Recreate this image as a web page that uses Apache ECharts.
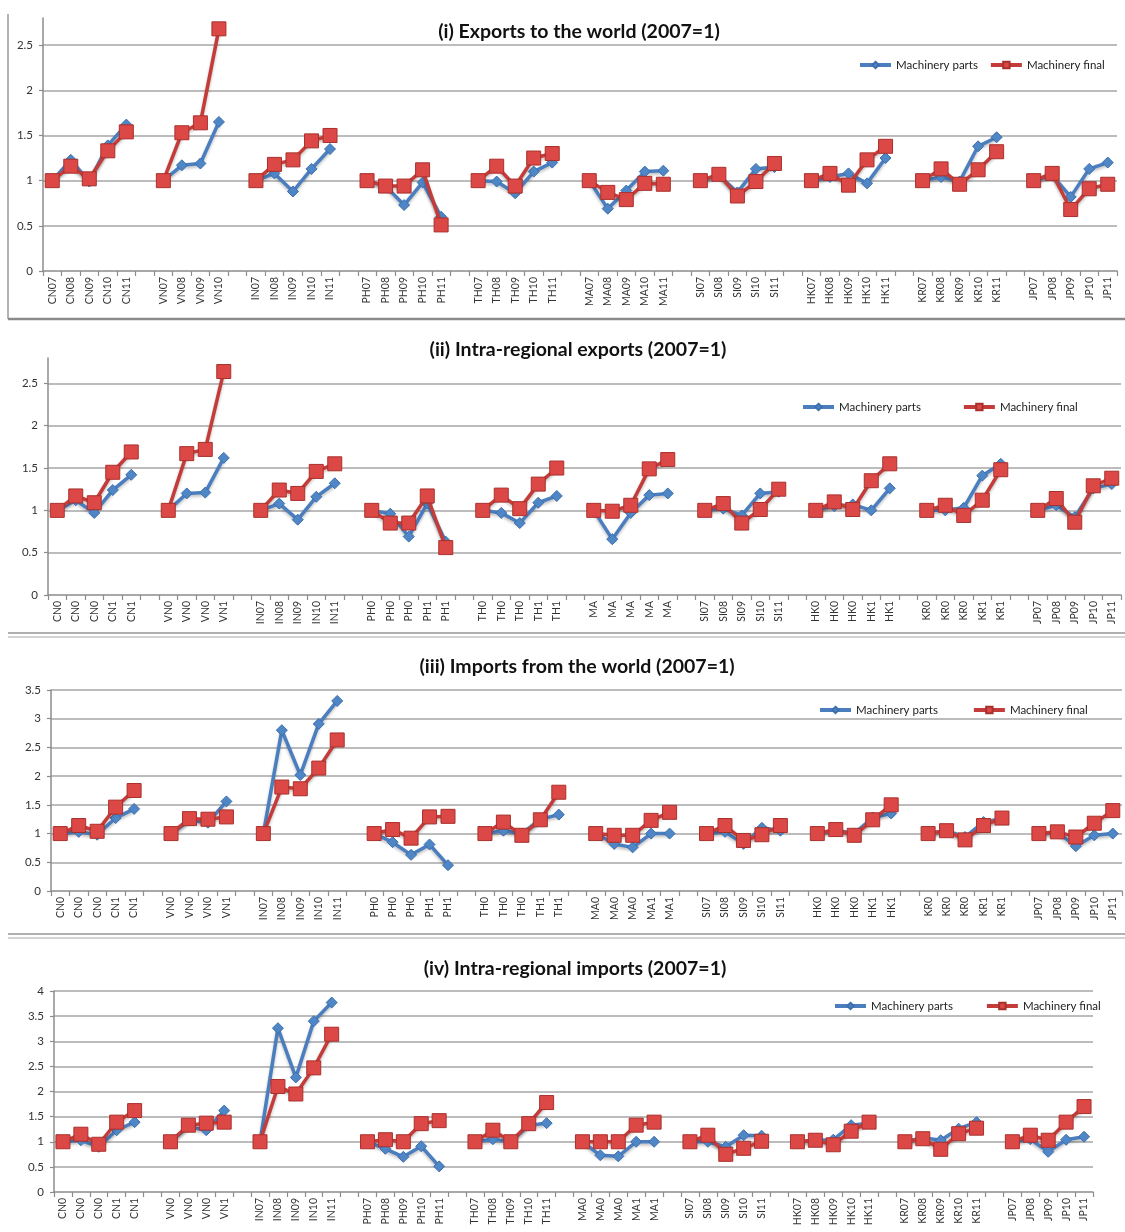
<!DOCTYPE html>
<html>
<head>
<meta charset="utf-8">
<script src="https://cdn.jsdelivr.net/npm/echarts@6/dist/echarts.min.js"></script>
<style>
  html, body { margin: 0; padding: 0; background: #fff; }
  #chart { width: 1125px; height: 1232px; }
</style>
</head>
<body>
<div id="chart"></div>
<script>
// Machinery trade indices by economy and year, 2007 = 1.
// Each economy has its own run of years; null separates the groups.

// ---- tick labels (as printed under each panel) ----
const labelsExportsWorld = [
  'CN07','CN08','CN09','CN10','CN11','',
  'VN07','VN08','VN09','VN10','',
  'IN07','IN08','IN09','IN10','IN11','',
  'PH07','PH08','PH09','PH10','PH11','',
  'TH07','TH08','TH09','TH10','TH11','',
  'MA07','MA08','MA09','MA10','MA11','',
  'SI07','SI08','SI09','SI10','SI11','',
  'HK07','HK08','HK09','HK10','HK11','',
  'KR07','KR08','KR09','KR10','KR11','',
  'JP07','JP08','JP09','JP10','JP11'
];
const labelsIntraExports = [
  'CN0','CN0','CN0','CN1','CN1','',
  'VN0','VN0','VN0','VN1','',
  'IN07','IN08','IN09','IN10','IN11','',
  'PH0','PH0','PH0','PH1','PH1','',
  'TH0','TH0','TH0','TH1','TH1','',
  'MA','MA','MA','MA','MA','',
  'SI07','SI08','SI09','SI10','SI11','',
  'HK0','HK0','HK0','HK1','HK1','',
  'KR0','KR0','KR0','KR1','KR1','',
  'JP07','JP08','JP09','JP10','JP11'
];
const labelsImportsWorld = [
  'CN0','CN0','CN0','CN1','CN1','',
  'VN0','VN0','VN0','VN1','',
  'IN07','IN08','IN09','IN10','IN11','',
  'PH0','PH0','PH0','PH1','PH1','',
  'TH0','TH0','TH0','TH1','TH1','',
  'MA0','MA0','MA0','MA1','MA1','',
  'SI07','SI08','SI09','SI10','SI11','',
  'HK0','HK0','HK0','HK1','HK1','',
  'KR0','KR0','KR0','KR1','KR1','',
  'JP07','JP08','JP09','JP10','JP11'
];
const labelsIntraImports = [
  'CN0','CN0','CN0','CN1','CN1','',
  'VN0','VN0','VN0','VN1','',
  'IN07','IN08','IN09','IN10','IN11','',
  'PH07','PH08','PH09','PH10','PH11','',
  'TH07','TH08','TH09','TH10','TH11','',
  'MA0','MA0','MA0','MA1','MA1','',
  'SI07','SI08','SI09','SI10','SI11','',
  'HK07','HK08','HK09','HK10','HK11','',
  'KR07','KR08','KR09','KR10','KR11','',
  'JP07','JP08','JP09','JP10','JP11'
];

// ---- (i) exports to the world ----
const exportsWorldParts = [
  1, 1.23, 0.99, 1.39, 1.62, null,
  1, 1.17, 1.19, 1.65, null,
  1, 1.08, 0.88, 1.13, 1.35, null,
  1, 0.94, 0.73, 0.98, 0.60, null,
  1, 0.99, 0.86, 1.10, 1.20, null,
  1, 0.69, 0.89, 1.10, 1.11, null,
  1, 1.06, 0.87, 1.13, 1.15, null,
  1, 1.04, 1.08, 0.97, 1.25, null,
  1, 1.04, 0.99, 1.38, 1.48, null,
  1, 1.06, 0.82, 1.13, 1.20
];
const exportsWorldFinal = [
  1, 1.16, 1.02, 1.33, 1.54, null,
  1, 1.53, 1.64, 2.68, null,
  1, 1.18, 1.23, 1.44, 1.50, null,
  1, 0.94, 0.94, 1.12, 0.51, null,
  1, 1.16, 0.94, 1.25, 1.30, null,
  1, 0.87, 0.79, 0.97, 0.96, null,
  1, 1.07, 0.83, 0.99, 1.19, null,
  1, 1.08, 0.95, 1.23, 1.38, null,
  1, 1.13, 0.96, 1.12, 1.32, null,
  1, 1.08, 0.68, 0.91, 0.96
];

// ---- (ii) intra-regional exports ----
const intraExportsParts = [
  1, 1.12, 0.97, 1.24, 1.42, null,
  1, 1.20, 1.21, 1.62, null,
  1, 1.08, 0.89, 1.16, 1.32, null,
  1, 0.96, 0.69, 1.08, 0.63, null,
  1, 0.97, 0.85, 1.09, 1.17, null,
  1, 0.66, 0.97, 1.18, 1.20, null,
  1, 1.02, 0.94, 1.20, 1.22, null,
  1, 1.05, 1.07, 1.00, 1.26, null,
  1, 1.00, 1.03, 1.41, 1.55, null,
  1, 1.06, 0.92, 1.26, 1.31
];
const intraExportsFinal = [
  1, 1.17, 1.09, 1.45, 1.69, null,
  1, 1.67, 1.72, 2.64, null,
  1, 1.24, 1.20, 1.46, 1.55, null,
  1, 0.85, 0.85, 1.17, 0.56, null,
  1, 1.18, 1.02, 1.31, 1.50, null,
  1, 0.99, 1.06, 1.49, 1.60, null,
  1, 1.08, 0.85, 1.01, 1.25, null,
  1, 1.10, 1.01, 1.35, 1.55, null,
  1, 1.06, 0.94, 1.12, 1.48, null,
  1, 1.14, 0.86, 1.29, 1.38
];

// ---- (iii) imports from the world ----
const importsWorldParts = [
  1, 1.03, 0.98, 1.27, 1.43, null,
  1, 1.23, 1.19, 1.56, null,
  1, 2.80, 2.02, 2.91, 3.31, null,
  1, 0.85, 0.63, 0.81, 0.45, null,
  1, 1.05, 1.00, 1.25, 1.33, null,
  1, 0.82, 0.76, 1.00, 1.00, null,
  1, 1.03, 0.82, 1.10, 1.05, null,
  1, 1.06, 1.00, 1.28, 1.35, null,
  1, 1.05, 0.94, 1.20, 1.26, null,
  1, 1.02, 0.78, 0.97, 1.00
];
const importsWorldFinal = [
  1, 1.14, 1.04, 1.46, 1.75, null,
  1, 1.26, 1.25, 1.29, null,
  1, 1.81, 1.78, 2.14, 2.63, null,
  1, 1.07, 0.92, 1.29, 1.30, null,
  1, 1.20, 0.97, 1.24, 1.72, null,
  1, 0.97, 0.97, 1.23, 1.37, null,
  1, 1.14, 0.88, 0.98, 1.14, null,
  1, 1.07, 0.97, 1.24, 1.50, null,
  1, 1.05, 0.89, 1.14, 1.27, null,
  1, 1.03, 0.94, 1.18, 1.40
];

// ---- (iv) intra-regional imports ----
const intraImportsParts = [
  1, 1.03, 0.90, 1.23, 1.39, null,
  1, 1.30, 1.23, 1.62, null,
  1, 3.26, 2.28, 3.40, 3.77, null,
  1, 0.86, 0.70, 0.91, 0.51, null,
  1, 1.05, 1.00, 1.33, 1.37, null,
  1, 0.73, 0.71, 1.00, 1.00, null,
  1, 1.00, 0.90, 1.13, 1.12, null,
  1, 1.03, 1.04, 1.33, 1.37, null,
  1, 1.08, 1.03, 1.26, 1.39, null,
  1, 1.05, 0.80, 1.04, 1.10
];
const intraImportsFinal = [
  1, 1.15, 0.95, 1.39, 1.62, null,
  1, 1.33, 1.37, 1.39, null,
  1, 2.10, 1.95, 2.47, 3.14, null,
  1, 1.04, 1.00, 1.36, 1.42, null,
  1, 1.23, 1.00, 1.36, 1.78, null,
  1, 1.00, 1.00, 1.33, 1.39, null,
  1, 1.13, 0.75, 0.87, 1.01, null,
  1, 1.03, 0.94, 1.21, 1.39, null,
  1, 1.06, 0.85, 1.16, 1.27, null,
  1, 1.13, 1.03, 1.39, 1.70
];

const panelTitles = [
  '(i) Exports to the world (2007=1)',
  '(ii) Intra-regional exports (2007=1)',
  '(iii) Imports from the world (2007=1)',
  '(iv) Intra-regional imports (2007=1)'
];
const seriesNames = ['Machinery parts', 'Machinery final'];

// ---- layout and styling ----
const FONT = 'Lato, "Open Sans", sans-serif';
const BLUE = '#4A7EBF';
const RED = '#C43C39';

const panels = [
  { labels: labelsExportsWorld, parts: exportsWorldParts, final: exportsWorldFinal,
    grid: { left: 43, top: 18, width: 1074, height: 253 }, max: 2.8,
    title: { x: 574, y: 17 }, legend: { left: 858, top: 59, gap: 11 } },
  { labels: labelsIntraExports, parts: intraExportsParts, final: intraExportsFinal,
    grid: { left: 48, top: 358, width: 1073, height: 237 }, max: 2.8,
    title: { x: 573, y: 335 }, legend: { left: 801, top: 401, gap: 41 } },
  { labels: labelsImportsWorld, parts: importsWorldParts, final: importsWorldFinal,
    grid: { left: 51, top: 690, width: 1071, height: 201 }, max: 3.5,
    title: { x: 572, y: 652 }, legend: { left: 818, top: 704, gap: 34 } },
  { labels: labelsIntraImports, parts: intraImportsParts, final: intraImportsFinal,
    grid: { left: 54, top: 991, width: 1039, height: 201 }, max: 4,
    title: { x: 570, y: 954 }, legend: { left: 833, top: 1000, gap: 32 } }
];

const option = {
  backgroundColor: '#ffffff',
  animation: false,
  textStyle: { fontFamily: FONT },
  title: [], legend: [], grid: [], xAxis: [], yAxis: [], series: [],
  graphic: []
};

panels.forEach((p, i) => {
  option.title.push({
    text: panelTitles[i],
    left: p.title.x, top: p.title.y,
    textAlign: 'center',
    textStyle: { fontFamily: FONT, fontSize: 19.5, fontWeight: 'bold', color: '#111' }
  });
  option.legend.push({
    data: seriesNames,
    left: p.legend.left, top: p.legend.top, padding: 0,
    itemWidth: 31, itemHeight: 8, itemGap: p.legend.gap,
    lineStyle: { width: 4 },
    textStyle: { fontFamily: FONT, fontSize: 11.5, color: '#222' },
    selectedMode: false
  });
  option.grid.push(Object.assign({ containLabel: false }, p.grid));
  option.xAxis.push({
    type: 'category', gridIndex: i, data: p.labels, boundaryGap: true,
    axisLine: { lineStyle: { color: '#8c8c8c', width: 1.5 } },
    axisTick: { show: true, interval: 0, length: 5, lineStyle: { color: '#8c8c8c', width: 1.2 } },
    axisLabel: { interval: 0, rotate: 90, fontSize: 10.5, color: '#333', margin: 6, fontFamily: FONT }
  });
  option.yAxis.push({
    type: 'value', gridIndex: i, min: 0, max: p.max, interval: 0.5,
    axisLine: { show: true, lineStyle: { color: '#8c8c8c', width: 1.5 } },
    axisTick: { show: true, length: 4, lineStyle: { color: '#8c8c8c', width: 1.2 } },
    axisLabel: { showMaxLabel: p.max % 0.5 === 0, fontSize: 11.5, color: '#333', margin: 10, fontFamily: FONT },
    splitLine: { show: true, showMinLine: false, showMaxLine: p.max % 0.5 === 0,
                 lineStyle: { color: '#a6a6a6', width: 1.5 } }
  });
  const shadow = { shadowColor: 'rgba(0,0,0,0.25)', shadowBlur: 3, shadowOffsetY: 2 };
  option.series.push({
    name: seriesNames[0], type: 'line', xAxisIndex: i, yAxisIndex: i,
    data: p.parts, connectNulls: false,
    symbol: 'diamond', symbolSize: 11,
    lineStyle: Object.assign({ color: BLUE, width: 3.5 }, shadow),
    itemStyle: { color: '#4F86C6', borderColor: '#3D6FAE', borderWidth: 1 },
    z: 3
  });
  option.series.push({
    name: seriesNames[1], type: 'line', xAxisIndex: i, yAxisIndex: i,
    data: p.final, connectNulls: false,
    symbol: 'rect', symbolSize: 14,
    lineStyle: Object.assign({ color: RED, width: 3.5 }, shadow),
    itemStyle: { color: '#DC4845', borderColor: '#A8302D', borderWidth: 1 },
    z: 4
  });
});

// panel frames and separators
const sepStyle = (c, w) => ({ stroke: c, lineWidth: w });
option.graphic = [
  { type: 'line', shape: { x1: 8, y1: 14, x2: 8, y2: 319 }, style: sepStyle('#9a9a9a', 1.5) },
  { type: 'line', shape: { x1: 8, y1: 319, x2: 1125, y2: 319 }, style: sepStyle('#8a8a8a', 2.5) },
  { type: 'line', shape: { x1: 8, y1: 633, x2: 1125, y2: 633 }, style: sepStyle('#b0b0b0', 2) },
  { type: 'line', shape: { x1: 8, y1: 637, x2: 1125, y2: 637 }, style: sepStyle('#c4c4c4', 1.5) },
  { type: 'line', shape: { x1: 8, y1: 934, x2: 1125, y2: 934 }, style: sepStyle('#b0b0b0', 2) },
  { type: 'line', shape: { x1: 8, y1: 938, x2: 1125, y2: 938 }, style: sepStyle('#c4c4c4', 1.5) }
];

const chart = echarts.init(document.getElementById('chart'), null, { renderer: 'canvas' });
chart.setOption(option);
</script>
</body>
</html>
